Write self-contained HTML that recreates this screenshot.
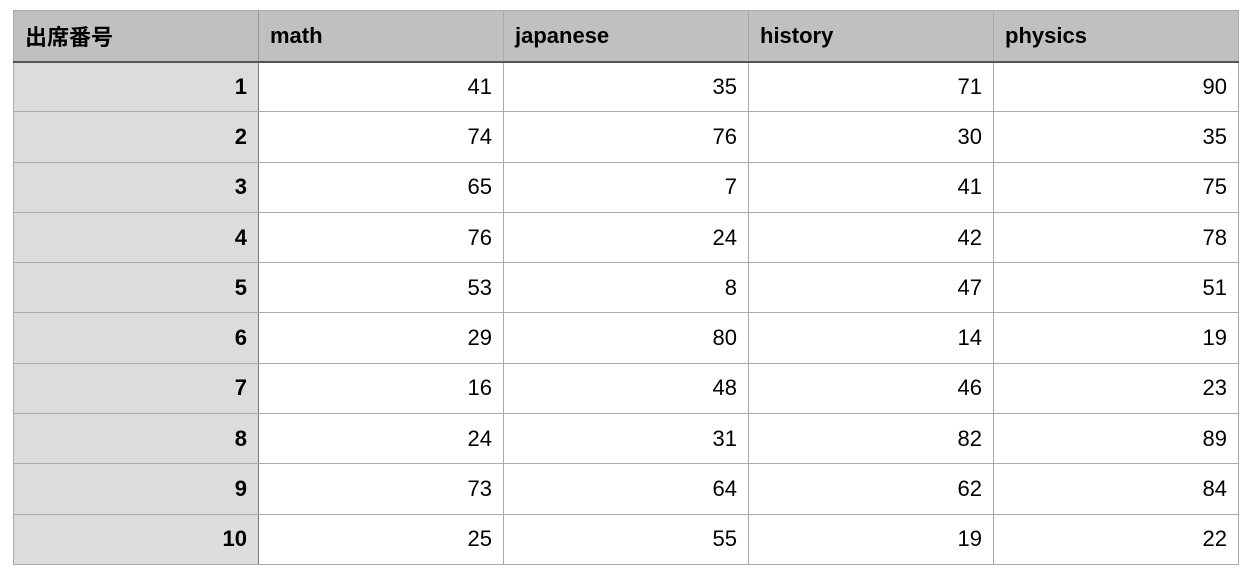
<!DOCTYPE html>
<html><head><meta charset="utf-8"><style>
body{margin:0;width:1244px;height:576px;background:#fff;font-family:"Liberation Sans","Noto Sans CJK JP",sans-serif;overflow:hidden}
table{position:absolute;left:13px;top:10px;border-collapse:collapse;table-layout:fixed}
td,th{border:1px solid #aaa;height:49px;padding:0 11px;font-size:22px;color:#000;box-sizing:border-box}
th{background:#c0c0c0;text-align:left;font-weight:bold;height:51px;border-bottom:2px solid #555}
td{text-align:right;height:50.3px}
td.id{background:#dcdcdc;font-weight:bold;border-right:1px solid #777}
th.id{border-right:1px solid #999}
</style></head><body>
<table>
<colgroup><col style="width:245px"><col style="width:245px"><col style="width:245px"><col style="width:245px"><col style="width:245px"></colgroup>
<thead><tr>
<th class="id">出席番号</th>
<th>math</th>
<th>japanese</th>
<th>history</th>
<th>physics</th>
</tr></thead>
<tbody id="tb"></tbody>
</table>
<script>
const ids=[1,2,3,4,5,6,7,8,9,10];
const math=[41,74,65,76,53,29,16,24,73,25];
const japanese=[35,76,7,24,8,80,48,31,64,55];
const history=[71,30,41,42,47,14,46,82,62,19];
const physics=[90,35,75,78,51,19,23,89,84,22];
const tb=document.getElementById('tb');
const cols=[['math',math],['japanese',japanese],['history',history],['physics',physics]];
ids.forEach((id,i)=>{
  const tr=document.createElement('tr');
  
  
  const c=document.createElement('td');c.className='id';c.textContent=id;
  
  
  tr.appendChild(c);
  cols.forEach(([n,a])=>{
    const td=document.createElement('td');td.textContent=a[i];
    
    
    tr.appendChild(td);
  });
  tb.appendChild(tr);
});
</script>
</body></html>
